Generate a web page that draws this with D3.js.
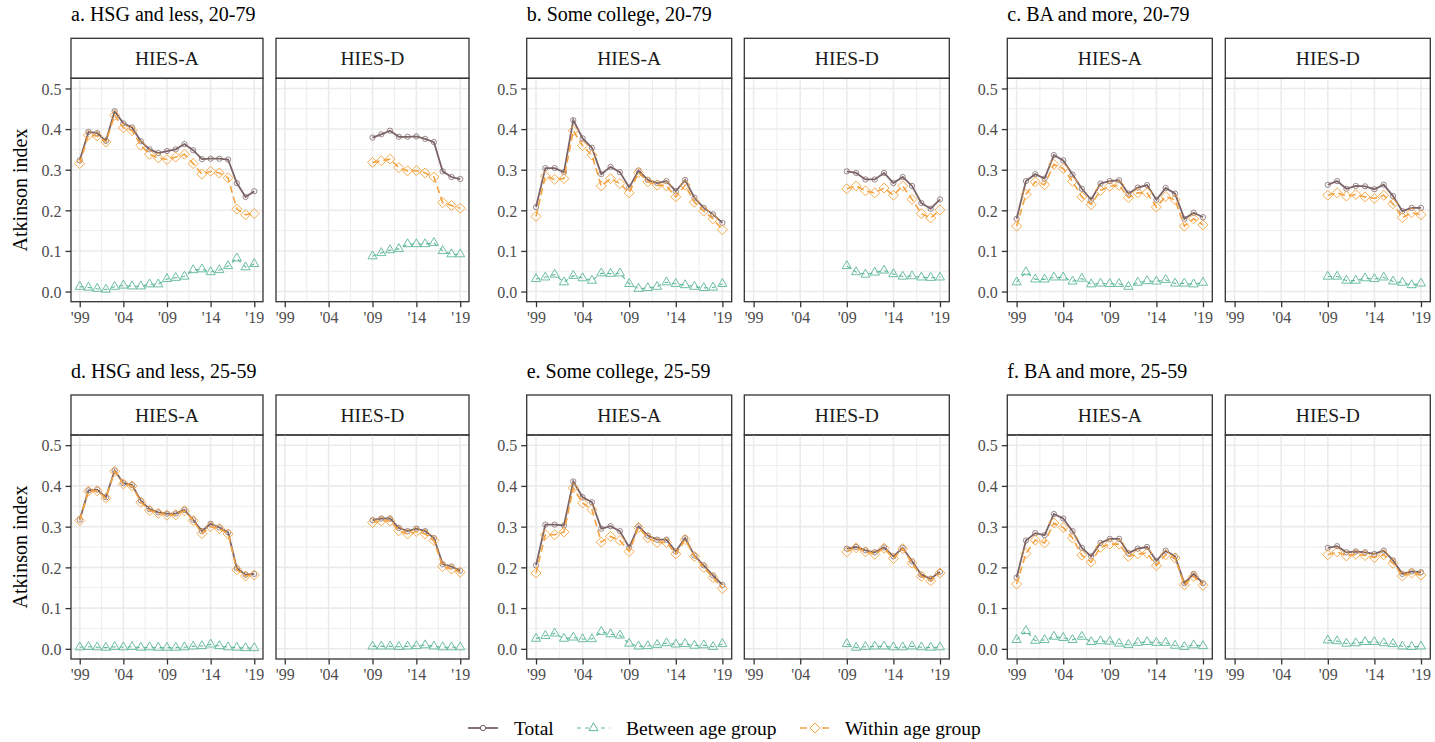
<!DOCTYPE html>
<html>
<head>
<meta charset="utf-8">
<script src="https://cdn.jsdelivr.net/npm/d3@7"></script>
<style>
  body { margin: 0; background: #fff; }
  text { font-family: "Liberation Serif", "Times New Roman", serif; }
</style>
</head>
<body>
<div id="chartContainer"></div>
<script>
// years for the two surveys
var yearsA = d3.range(1999, 2020),
  yearsD = d3.range(2009, 2020);

var xTickYears = [1999, 2004, 2009, 2014, 2019],
  xTickLabels = ["'99", "'04", "'09", "'14", "'19"],
  yTicks = [0, 0.1, 0.2, 0.3, 0.4, 0.5];

var panelTitles = ["a. HSG and less, 20-79", "b. Some college, 20-79", "c. BA and more, 20-79",
  "d. HSG and less, 25-59", "e. Some college, 25-59", "f. BA and more, 25-59"];
var facetNames = ["HIES-A", "HIES-D"];
var seriesNames = ["Total", "Between age group", "Within age group"];

// a. HSG and less, 20-79
var aA_total = [0.323, 0.393, 0.390, 0.371, 0.444, 0.414, 0.404, 0.370, 0.350, 0.341, 0.346, 0.350, 0.363, 0.348, 0.326, 0.327, 0.327, 0.325, 0.267, 0.233, 0.247];
var aA_between = [0.012, 0.010, 0.007, 0.005, 0.012, 0.015, 0.013, 0.013, 0.018, 0.018, 0.031, 0.034, 0.037, 0.053, 0.055, 0.048, 0.053, 0.063, 0.082, 0.060, 0.068];
var aA_within = [0.315, 0.385, 0.383, 0.368, 0.434, 0.403, 0.396, 0.360, 0.338, 0.329, 0.325, 0.331, 0.338, 0.315, 0.289, 0.296, 0.292, 0.280, 0.203, 0.189, 0.192];
var aD_total = [0.379, 0.387, 0.396, 0.381, 0.381, 0.382, 0.376, 0.368, 0.296, 0.282, 0.277];
var aD_between = [0.087, 0.095, 0.102, 0.105, 0.117, 0.117, 0.117, 0.120, 0.100, 0.092, 0.092];
var aD_within = [0.318, 0.322, 0.326, 0.305, 0.297, 0.298, 0.292, 0.282, 0.219, 0.212, 0.205];

// b. Some college, 20-79
var bA_total = [0.208, 0.304, 0.304, 0.294, 0.422, 0.377, 0.354, 0.289, 0.307, 0.294, 0.256, 0.298, 0.275, 0.267, 0.272, 0.247, 0.275, 0.231, 0.206, 0.190, 0.169];
var bA_between = [0.031, 0.035, 0.042, 0.023, 0.039, 0.033, 0.027, 0.045, 0.044, 0.045, 0.019, 0.007, 0.009, 0.012, 0.023, 0.019, 0.016, 0.012, 0.009, 0.010, 0.019];
var bA_within = [0.185, 0.284, 0.276, 0.278, 0.396, 0.359, 0.336, 0.260, 0.278, 0.266, 0.243, 0.293, 0.270, 0.262, 0.260, 0.233, 0.262, 0.220, 0.198, 0.179, 0.152];
var bD_total = [0.296, 0.292, 0.276, 0.276, 0.292, 0.267, 0.282, 0.260, 0.218, 0.204, 0.227];
var bD_between = [0.063, 0.048, 0.042, 0.047, 0.052, 0.043, 0.037, 0.038, 0.035, 0.034, 0.035];
var bD_within = [0.253, 0.260, 0.248, 0.243, 0.255, 0.237, 0.260, 0.227, 0.192, 0.181, 0.201];

// c. BA and more, 20-79
var cA_total = [0.179, 0.272, 0.289, 0.278, 0.336, 0.323, 0.288, 0.253, 0.226, 0.266, 0.272, 0.274, 0.241, 0.256, 0.262, 0.226, 0.255, 0.241, 0.179, 0.194, 0.183];
var cA_between = [0.023, 0.048, 0.030, 0.030, 0.035, 0.035, 0.025, 0.032, 0.018, 0.020, 0.019, 0.019, 0.012, 0.022, 0.026, 0.025, 0.029, 0.020, 0.020, 0.018, 0.022];
var cA_within = [0.161, 0.239, 0.270, 0.263, 0.313, 0.303, 0.271, 0.233, 0.214, 0.249, 0.259, 0.262, 0.231, 0.243, 0.243, 0.208, 0.234, 0.226, 0.161, 0.179, 0.164];
var cD_total = [0.263, 0.272, 0.253, 0.260, 0.259, 0.252, 0.263, 0.235, 0.198, 0.206, 0.206];
var cD_between = [0.037, 0.037, 0.027, 0.027, 0.033, 0.031, 0.035, 0.025, 0.022, 0.016, 0.020];
var cD_within = [0.237, 0.243, 0.235, 0.239, 0.233, 0.229, 0.237, 0.216, 0.182, 0.194, 0.189];

// d. HSG and less, 25-59
var dA_total = [0.317, 0.389, 0.391, 0.372, 0.438, 0.407, 0.402, 0.364, 0.343, 0.335, 0.332, 0.332, 0.341, 0.317, 0.289, 0.307, 0.298, 0.286, 0.198, 0.182, 0.184];
var dA_between = [0.004, 0.005, 0.004, 0.003, 0.005, 0.004, 0.005, 0.003, 0.004, 0.003, 0.003, 0.003, 0.004, 0.006, 0.007, 0.011, 0.007, 0.004, 0.003, 0.002, 0.002];
var dA_within = [0.315, 0.387, 0.388, 0.370, 0.436, 0.405, 0.400, 0.360, 0.340, 0.333, 0.328, 0.329, 0.339, 0.315, 0.283, 0.300, 0.295, 0.282, 0.194, 0.179, 0.181];
var dD_total = [0.316, 0.320, 0.320, 0.297, 0.289, 0.295, 0.289, 0.272, 0.208, 0.202, 0.192];
var dD_between = [0.006, 0.006, 0.006, 0.005, 0.006, 0.007, 0.009, 0.006, 0.004, 0.004, 0.004];
var dD_within = [0.310, 0.314, 0.314, 0.290, 0.282, 0.288, 0.282, 0.266, 0.202, 0.196, 0.188];

// e. Some college, 25-59
var eA_total = [0.205, 0.305, 0.305, 0.303, 0.411, 0.372, 0.360, 0.295, 0.301, 0.289, 0.249, 0.301, 0.278, 0.268, 0.268, 0.239, 0.272, 0.229, 0.205, 0.180, 0.157];
var eA_between = [0.025, 0.032, 0.038, 0.025, 0.028, 0.024, 0.024, 0.042, 0.036, 0.033, 0.013, 0.006, 0.007, 0.010, 0.014, 0.011, 0.012, 0.008, 0.009, 0.005, 0.012];
var eA_within = [0.186, 0.280, 0.280, 0.287, 0.395, 0.358, 0.342, 0.262, 0.276, 0.266, 0.239, 0.298, 0.272, 0.261, 0.261, 0.233, 0.268, 0.227, 0.200, 0.175, 0.148];
var eD_total = [0.246, 0.250, 0.242, 0.237, 0.249, 0.227, 0.248, 0.215, 0.182, 0.172, 0.189];
var eD_between = [0.012, 0.003, 0.005, 0.006, 0.006, 0.004, 0.004, 0.006, 0.004, 0.003, 0.004];
var eD_within = [0.238, 0.248, 0.238, 0.232, 0.247, 0.222, 0.246, 0.210, 0.178, 0.167, 0.186];

// f. BA and more, 25-59
var fA_total = [0.175, 0.266, 0.284, 0.279, 0.331, 0.320, 0.289, 0.248, 0.227, 0.260, 0.270, 0.270, 0.235, 0.246, 0.250, 0.216, 0.241, 0.227, 0.161, 0.184, 0.161];
var fA_between = [0.022, 0.044, 0.020, 0.022, 0.030, 0.027, 0.022, 0.030, 0.017, 0.019, 0.018, 0.013, 0.010, 0.015, 0.017, 0.015, 0.015, 0.008, 0.005, 0.009, 0.007];
var fA_within = [0.159, 0.234, 0.267, 0.260, 0.309, 0.298, 0.272, 0.230, 0.213, 0.249, 0.257, 0.257, 0.227, 0.233, 0.235, 0.204, 0.231, 0.223, 0.157, 0.178, 0.156];
var fD_total = [0.248, 0.252, 0.237, 0.239, 0.237, 0.233, 0.241, 0.217, 0.184, 0.190, 0.188];
var fD_between = [0.021, 0.019, 0.013, 0.014, 0.017, 0.017, 0.014, 0.012, 0.006, 0.005, 0.006];
var fD_within = [0.231, 0.238, 0.228, 0.232, 0.229, 0.224, 0.231, 0.210, 0.179, 0.186, 0.181];

var panelData = [
  [[aA_total, aA_between, aA_within], [aD_total, aD_between, aD_within]],
  [[bA_total, bA_between, bA_within], [bD_total, bD_between, bD_within]],
  [[cA_total, cA_between, cA_within], [cD_total, cD_between, cD_within]],
  [[dA_total, dA_between, dA_within], [dD_total, dD_between, dD_within]],
  [[eA_total, eA_between, eA_within], [eD_total, eD_between, eD_within]],
  [[fA_total, fA_between, fA_within], [fD_total, fD_between, fD_within]]
];

// layout
var width = 1435,
  height = 742;
var colX = [[71, 263, 276, 469], [526.7, 731.7, 744.3, 949.3], [1007.3, 1212.3, 1225.3, 1430.3]];
var rows = [
  { title: 21, strip: 38.3, top: 78.3, bottom: 301.7 },
  { title: 378, strip: 395, top: 435, bottom: 659 }
];
var colors = ["#7b6366", "#5db79c", "#f4a340"];
var dashes = [null, "4,4", "7,4"];
var lineWidths = [1.8, 1.1, 1.6];
var serif = "'Liberation Serif', 'Times New Roman', serif";

var svg = d3.select("#chartContainer")
  .append("svg")
  .attr("width", width)
  .attr("height", height);

function markerPath(k) {
  if (k === 0) return d3.symbol().type(d3.symbolCircle).size(22)();
  if (k === 1) return d3.symbol().type(d3.symbolTriangle).size(36)();
  return "M0,-5L5,0L0,5L-5,0Z";
}

panelData.forEach(function (panel, p) {
  var row = rows[Math.floor(p / 3)],
    cx = colX[p % 3];
  var g = svg.append("g");

  // panel title
  g.append("text")
    .attr("x", cx[0])
    .attr("y", row.title)
    .style("font-size", "20px")
    .style("fill", "#000")
    .text(panelTitles[p]);

  var y = d3.scaleLinear().domain([-0.025, 0.525]).range([row.bottom, row.top]);

  panel.forEach(function (facet, f) {
    var left = cx[f * 2], right = cx[f * 2 + 1];
    var x = d3.scaleLinear().domain([1998, 2020]).range([left, right]);
    var years = f === 0 ? yearsA : yearsD;
    var fg = g.append("g");

    // strip
    fg.append("rect")
      .attr("x", left).attr("y", row.strip)
      .attr("width", right - left).attr("height", row.top - row.strip)
      .attr("fill", "#fff").attr("stroke", "#333").attr("stroke-width", 1.3);
    fg.append("text")
      .attr("x", (left + right) / 2)
      .attr("y", (row.strip + row.top) / 2 + 6.5)
      .attr("text-anchor", "middle")
      .style("font-size", "19.5px")
      .style("fill", "#1a1a1a")
      .text(facetNames[f]);

    // grid
    var minorY = [0.05, 0.15, 0.25, 0.35, 0.45],
      minorX = [2001.5, 2006.5, 2011.5, 2016.5];
    fg.selectAll(".minorY").data(minorY).enter().append("line")
      .attr("x1", left).attr("x2", right)
      .attr("y1", function (d) { return y(d); }).attr("y2", function (d) { return y(d); })
      .attr("stroke", "#ebebeb").attr("stroke-width", 0.9);
    fg.selectAll(".minorX").data(minorX).enter().append("line")
      .attr("y1", row.top).attr("y2", row.bottom)
      .attr("x1", function (d) { return x(d); }).attr("x2", function (d) { return x(d); })
      .attr("stroke", "#ebebeb").attr("stroke-width", 0.9);
    fg.selectAll(".majorY").data(yTicks).enter().append("line")
      .attr("x1", left).attr("x2", right)
      .attr("y1", function (d) { return y(d); }).attr("y2", function (d) { return y(d); })
      .attr("stroke", "#ebebeb").attr("stroke-width", 1.6);
    fg.selectAll(".majorX").data(xTickYears).enter().append("line")
      .attr("y1", row.top).attr("y2", row.bottom)
      .attr("x1", function (d) { return x(d); }).attr("x2", function (d) { return x(d); })
      .attr("stroke", "#ebebeb").attr("stroke-width", 1.6);

    // x axis
    var xAxis = d3.axisBottom(x)
      .tickValues(xTickYears)
      .tickFormat(function (d, i) { return xTickLabels[i]; })
      .tickSize(5.5)
      .tickPadding(4);
    var xa = fg.append("g")
      .attr("transform", "translate(0," + row.bottom + ")")
      .call(xAxis)
      .attr("font-family", serif)
      .attr("font-size", 16);
    xa.select(".domain").remove();
    xa.selectAll("line").attr("stroke", "#333").attr("stroke-width", 1.3);
    xa.selectAll("text").attr("fill", "#4d4d4d");

    // y axis only on the first facet
    if (f === 0) {
      var yAxis = d3.axisLeft(y)
        .tickValues(yTicks)
        .tickFormat(d3.format(".1f"))
        .tickSize(5.5)
        .tickPadding(4);
      var ya = fg.append("g")
        .attr("transform", "translate(" + left + ",0)")
        .call(yAxis)
        .attr("font-family", serif)
        .attr("font-size", 16);
      ya.select(".domain").remove();
      ya.selectAll("line").attr("stroke", "#333").attr("stroke-width", 1.3);
      ya.selectAll("text").attr("dy", "0.36em").attr("fill", "#4d4d4d");
    }

    // series: total, between, within
    facet.forEach(function (vals, k) {
      var pts = vals.map(function (v, i) { return [years[i], v]; });
      fg.append("path")
        .datum(pts)
        .attr("fill", "none")
        .attr("stroke", colors[k])
        .attr("stroke-width", lineWidths[k])
        .attr("stroke-dasharray", dashes[k])
        .attr("d", d3.line()
          .x(function (d) { return x(d[0]); })
          .y(function (d) { return y(d[1]); }));
      fg.selectAll(".m" + k).data(pts).enter().append("path")
        .attr("transform", function (d) { return "translate(" + x(d[0]) + "," + y(d[1]) + ")"; })
        .attr("d", markerPath(k))
        .attr("fill", "none")
        .attr("stroke", colors[k])
        .attr("stroke-opacity", k === 0 ? 0.75 : 0.9)
        .attr("stroke-width", 1);
    });

    // panel border
    fg.append("rect")
      .attr("x", left).attr("y", row.top)
      .attr("width", right - left).attr("height", row.bottom - row.top)
      .attr("fill", "none").attr("stroke", "#333").attr("stroke-width", 1.3);
  });

  // y axis title, left column only
  if (p % 3 === 0) {
    g.append("text")
      .attr("transform", "translate(27," + (row.top + row.bottom) / 2 + ") rotate(-90)")
      .attr("text-anchor", "middle")
      .style("font-size", "20px")
      .style("fill", "#000")
      .text("Atkinson index");
  }
});

// legend
var legendX = [468, 577, 800],
  legendY = 728;
seriesNames.forEach(function (name, k) {
  var lg = svg.append("g").attr("transform", "translate(" + legendX[k] + "," + legendY + ")");
  var keyW = k === 1 ? 33 : 30;
  lg.append("line")
    .attr("x1", 0).attr("x2", keyW)
    .attr("stroke", colors[k])
    .attr("stroke-width", lineWidths[k])
    .attr("stroke-dasharray", dashes[k]);
  lg.append("path")
    .attr("transform", "translate(" + keyW / 2 + ",0)")
    .attr("d", markerPath(k))
    .attr("fill", "#fff")
    .attr("stroke", colors[k])
    .attr("stroke-width", 1);
  lg.append("text")
    .attr("x", keyW + (k === 2 ? 15 : 16))
    .attr("y", 7)
    .style("font-size", "19.5px")
    .style("fill", "#000")
    .text(name);
});
</script>
</body>
</html>
